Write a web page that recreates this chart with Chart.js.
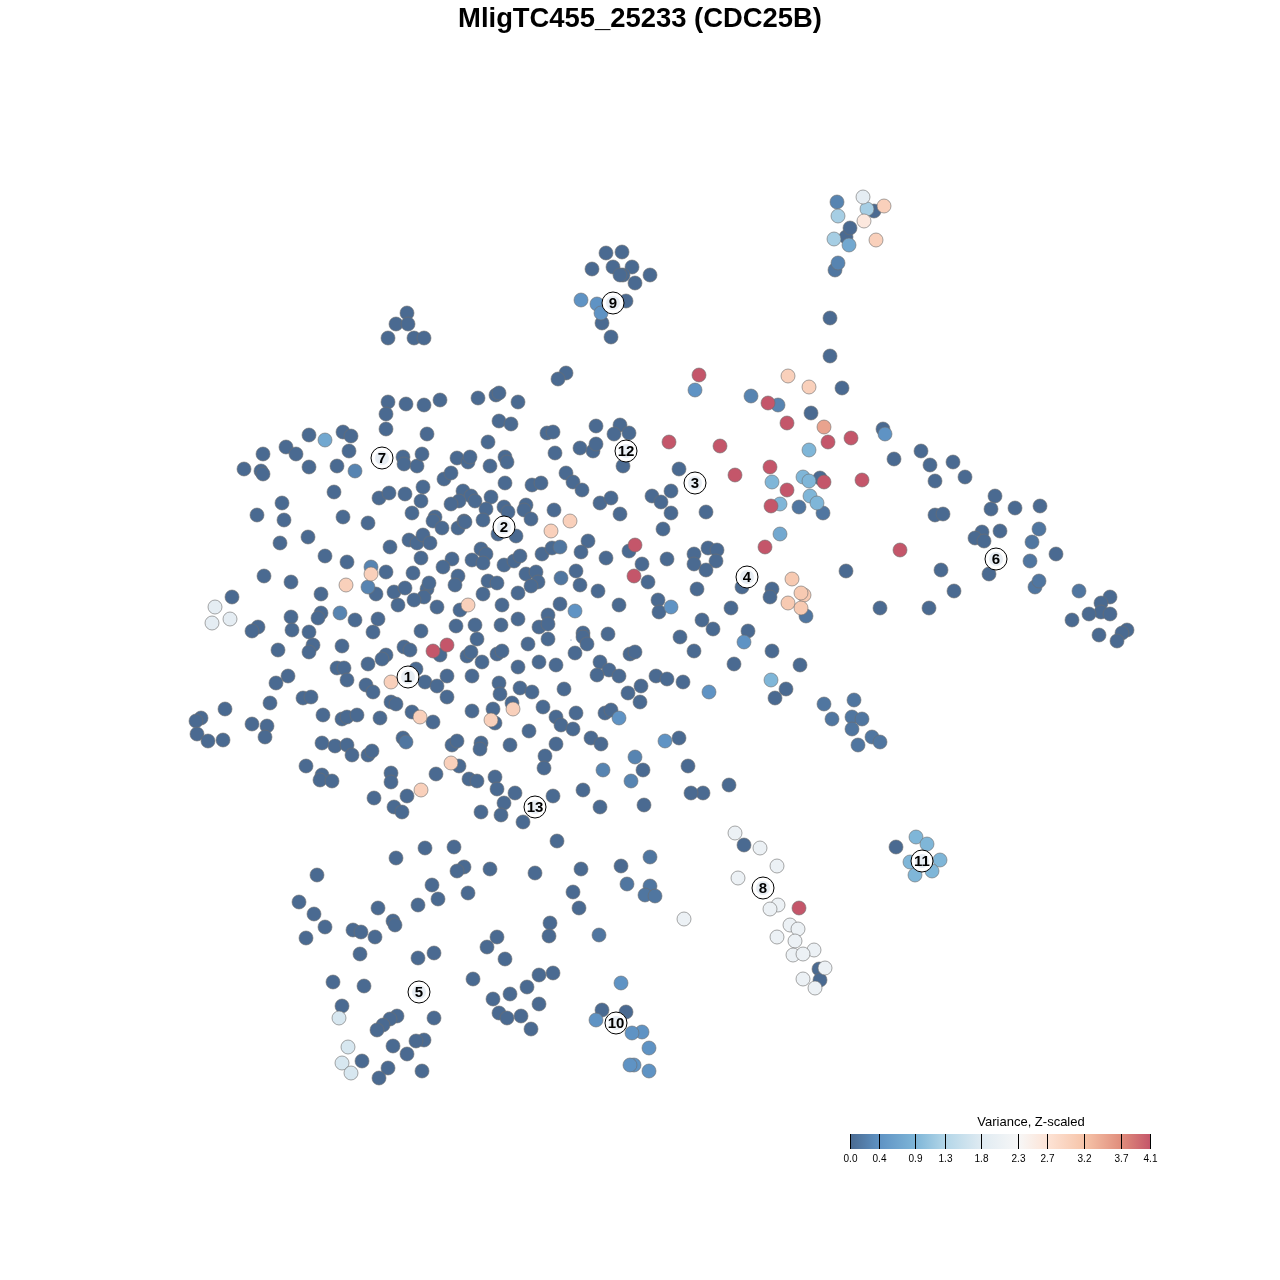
<!DOCTYPE html>
<html>
<head>
<meta charset="utf-8">
<title>MligTC455_25233 (CDC25B)</title>
<script src="https://cdn.jsdelivr.net/npm/chart.js@4"></script>
<style>
  html, body { margin: 0; padding: 0; background: #fff; }
  #wrap { width: 1280px; height: 1280px; }
</style>
</head>
<body>
<div id="wrap"><canvas id="tsneChart" width="1280" height="1280"></canvas></div>
<script>
// cells, grouped by variance, lowest drawn first: [x, y, x, y, ...]
const cellsV000 = [
  606,253, 622,252, 592,269, 613,267, 632,267, 623,275, 620,275, 650,275, 635,283, 626,301, 602,323, 611,337,
  407,313, 396,324, 408,324, 388,338, 414,338, 424,338, 566,373, 558,379, 846,237, 850,228, 874,211, 830,318,
  830,356, 842,388, 811,413, 883,429, 894,459, 921,451, 930,465, 953,462, 965,477, 935,481, 995,496, 991,509,
  1015,508, 1040,506, 935,515, 943,514, 1000,531, 982,532, 975,538, 984,541, 1056,554, 941,570, 989,574, 954,591,
  880,608, 929,608, 1110,597, 1101,603, 1101,612, 1110,614, 1089,614, 1072,620, 1127,630, 1122,633, 1099,635, 1117,641,
  820,478, 846,571,
  309,435, 343,432, 351,436, 349,451, 263,454, 286,447, 296,454, 244,469, 261,471, 263,474, 309,467, 337,466,
  388,402, 386,414, 386,429, 406,404, 424,405, 427,434, 403,457, 404,464, 417,466, 422,454, 334,492, 282,503,
  257,515, 284,520, 343,517, 368,523, 379,498, 389,493, 405,494, 423,487, 421,501, 412,513, 435,517, 433,521,
  280,543, 308,537, 325,556, 347,562, 390,547, 409,540, 417,543, 423,535, 430,543, 421,558, 386,572, 413,573,
  264,576, 291,582, 376,594, 394,592, 405,588, 427,589, 429,583, 424,597, 414,600, 398,605, 321,594, 232,597,
  291,617, 321,613, 318,618, 355,620, 378,619, 258,627, 252,631, 292,630, 309,632, 373,632, 421,631, 278,650,
  313,645, 309,652, 342,646, 404,647, 410,650, 386,655, 382,659, 368,664, 337,668, 344,668, 347,680, 416,669,
  425,682, 366,685, 373,692, 288,676, 276,683, 270,703, 303,698, 311,697, 391,702, 396,704, 225,709, 323,715,
  342,719, 347,717, 357,715, 380,718, 412,712, 433,722, 201,718, 196,721, 197,734, 208,741, 223,740, 252,724,
  267,726, 265,737, 403,738, 322,743, 335,746, 347,745, 352,755, 368,755, 372,751, 306,766, 322,775, 320,780,
  332,781, 391,773, 391,782, 436,774, 407,796, 374,798, 394,807, 402,812, 425,848,
  440,400, 478,398, 496,395, 499,393, 518,402, 499,421, 511,424, 488,442, 547,433, 553,432, 596,426, 620,425,
  614,434, 629,433, 555,453, 580,448, 593,451, 596,444, 623,466, 457,458, 468,462, 470,457, 490,466, 505,457,
  507,462, 566,473, 573,482, 582,490, 444,479, 451,473, 505,483, 532,485, 541,483, 463,491, 471,496, 475,501,
  459,501, 451,504, 491,497, 486,509, 483,520, 504,507, 508,512, 526,505, 524,510, 531,519, 554,510, 600,503,
  611,498, 620,514, 442,528, 458,528, 464,521, 465,522, 498,534, 516,536, 588,541, 581,552, 542,554, 552,548,
  606,558, 629,551, 642,564, 648,582, 481,549, 486,554, 472,560, 483,563, 452,559, 443,567, 458,576, 455,585,
  504,565, 514,561, 520,556, 488,581, 497,583, 526,574, 536,572, 538,582, 531,586, 576,571, 580,585, 598,591,
  483,594, 518,593, 437,607, 460,610, 502,605, 560,604, 619,605, 548,615, 539,627, 548,624, 518,619, 456,626,
  475,625, 501,625, 583,633, 608,634, 477,639, 528,644, 548,639, 583,637, 587,644, 575,653, 440,655, 467,656,
  471,652, 482,662, 497,654, 502,651, 539,662, 556,665, 518,667, 600,662, 609,670, 597,675, 619,676, 630,654,
  635,652, 447,676, 472,676, 437,686, 447,697, 499,683, 500,694, 520,688, 532,692, 564,689, 628,693, 641,686,
  640,702, 472,711, 493,709, 512,703, 495,723, 543,707, 556,717, 561,725, 576,713, 573,729, 605,713, 611,710,
  529,731, 591,738, 601,744, 452,745, 457,741, 481,743, 480,749, 510,745, 556,744, 545,756, 544,768, 643,770,
  459,766, 469,779, 477,781, 495,777, 497,789, 515,793, 504,803, 553,796, 583,790, 600,807, 644,805, 481,812,
  501,815, 523,822, 557,841, 454,847,
  679,469, 671,491, 652,496, 661,502, 671,513, 706,512, 663,529, 708,548, 717,550, 694,554, 694,564, 716,561,
  706,570, 667,559, 742,587, 697,589, 772,589, 658,600, 659,612, 731,608, 702,620, 713,629, 748,631, 680,637,
  694,651, 772,651, 734,664, 800,665, 656,676, 667,679, 683,682, 786,689, 775,698, 679,738, 688,766, 729,785,
  703,793, 691,793, 770,597,
  396,858, 317,875, 464,867, 457,871, 490,869, 535,873, 432,885, 468,893, 438,899, 418,905, 299,902, 314,914,
  325,927, 306,938, 378,908, 393,921, 395,925, 353,930, 361,932, 375,937, 360,954, 434,953, 418,958, 497,937,
  487,947, 505,959, 550,923, 549,936, 573,892, 579,908, 553,973, 539,975, 527,987, 333,982, 364,986, 473,979,
  510,994, 493,999, 539,1004, 342,1006, 499,1013, 507,1018, 521,1016, 531,1029, 434,1018, 397,1016, 390,1019,
  383,1025, 377,1030, 424,1040, 416,1041, 393,1046, 407,1054, 362,1061, 388,1068, 379,1078, 422,1071, 621,866,
  581,869, 744,845, 602,1010, 626,1012, 819,969, 820,980, 896,847
];
const cellsV012 = [
  824,704, 854,700, 832,719, 852,717, 862,719, 852,729, 872,737, 880,742, 858,745, 1030,561, 1032,542, 1039,529,
  1035,587, 1039,581, 1079,591, 650,857, 627,884, 650,886, 645,895, 655,896, 599,935, 835,270, 560,547, 561,578,
  406,742, 823,513, 799,507, 806,616
];
const cellsV025 = [355,471, 371,567, 368,587, 340,613, 635,757, 631,781, 603,770, 837,202, 778,405, 751,396, 838,263];
const cellsV040 = [
  575,611, 619,718, 665,741, 709,692, 744,642, 671,607, 581,300, 597,304, 601,313, 695,390, 885,434, 621,983,
  596,1020, 642,1032, 632,1033, 649,1048, 634,1065, 630,1065, 649,1071
];
const cellsV070 = [325,440, 780,534, 849,245];
const cellsV090 = [
  772,482, 803,477, 809,481, 810,496, 817,503, 780,504, 809,450, 771,680, 916,837, 927,844, 940,860, 910,862,
  932,871, 915,875
];
const cellsV120 = [834,239, 838,216, 867,209];
const cellsV170 = [339,1018, 348,1047, 342,1063, 351,1073];
const cellsV190 = [215,607, 230,619, 212,623, 863,197];
const cellsV205 = [
  735,833, 760,848, 777,866, 738,878, 778,905, 770,909, 684,919, 790,925, 798,929, 777,937, 795,941, 814,950,
  793,955, 803,954, 825,968, 803,979, 815,988
];
const cellsV260 = [864,221];
const cellsV300 = [
  391,682, 420,717, 421,790, 451,763, 491,720, 513,709, 468,605, 346,585, 371,574, 570,521, 551,531, 788,376,
  809,387, 884,206, 876,240
];
const cellsV310 = [792,579, 804,595, 801,593, 788,603, 801,608];
const cellsV350 = [824,427];
const cellsV410 = [
  699,375, 768,403, 787,423, 851,438, 828,442, 669,442, 720,446, 770,467, 735,475, 824,482, 862,480, 787,490,
  771,506, 765,547, 900,550, 635,545, 634,576, 433,651, 447,645, 799,908
];

const varianceLevels = [0, 0.12, 0.25, 0.4, 0.7, 0.9, 1.2, 1.7, 1.9, 2.05, 2.6, 3.0, 3.1, 3.5, 4.1];
const cellsByLevel = [cellsV000, cellsV012, cellsV025, cellsV040, cellsV070, cellsV090, cellsV120, cellsV170,
  cellsV190, cellsV205, cellsV260, cellsV300, cellsV310, cellsV350, cellsV410];

// the speck left of the middle of the plot
const speckX = [571];
const speckY = [640];

// numbered cluster badges
const clusterIds = ['1', '2', '3', '4', '5', '6', '7', '8', '9', '10', '11', '12', '13'];
const clusterX = [408, 504, 695, 747, 419, 996, 382, 763, 613, 616, 922, 626, 535];
const clusterY = [677, 527, 483, 577, 992, 559, 458, 888, 303, 1023, 861, 451, 807];

// colour bar
const barTicks = [0.0, 0.4, 0.9, 1.3, 1.8, 2.3, 2.7, 3.2, 3.7, 4.1];
const barColors = ['#4a6a91', '#5f93c4', '#7fb6d8', '#b3d6e8', '#e0ebf2', '#f7f7f7', '#fde3d5', '#f6c4a9', '#e08d7c', '#c4566a'];

function hexToRgb(h) {
  return [1, 3, 5].map(i => parseInt(h.slice(i, i + 2), 16));
}

// piecewise colour lookup along the bar ticks
function colorFor(v) {
  let i = 0;
  while (i < barTicks.length - 2 && v > barTicks[i + 1]) i++;
  const t = Math.min(1, Math.max(0, (v - barTicks[i]) / (barTicks[i + 1] - barTicks[i])));
  const a = hexToRgb(barColors[i]), b = hexToRgb(barColors[i + 1]);
  const c = a.map((n, k) => Math.round(n + (b[k] - n) * t));
  return 'rgb(' + c.join(',') + ')';
}

function toPoints(flat) {
  const out = [];
  for (let i = 0; i < flat.length; i += 2) out.push({ x: flat[i], y: flat[i + 1] });
  return out;
}

// chart.js paints the lowest order last, so higher variance gets a lower order
const cellDatasets = cellsByLevel.map((cells, i) => ({
  label: 'variance ' + varianceLevels[i],
  data: toPoints(cells),
  order: 100 - i,
  pointRadius: 7,
  pointBorderWidth: 1,
  pointBackgroundColor: colorFor(varianceLevels[i]),
  pointBorderColor: 'rgba(110,110,110,0.6)',
  showLine: false
}));

const clusterPoints = clusterIds.map((id, i) => ({ x: clusterX[i], y: clusterY[i] }));

// badge numbers on top of the points
const badgeText = {
  id: 'badgeText',
  afterDatasetsDraw(chart) {
    const ctx = chart.ctx;
    ctx.save();
    ctx.fillStyle = '#000';
    ctx.font = 'bold 15px "Liberation Sans"';
    ctx.textAlign = 'center';
    ctx.textBaseline = 'middle';
    clusterIds.forEach((id, i) => {
      ctx.fillText(id, chart.scales.x.getPixelForValue(clusterX[i]), chart.scales.y.getPixelForValue(clusterY[i]) + 0.5);
    });
    ctx.restore();
  }
};

// variance colour bar, bottom right
const colorBar = {
  id: 'colorBar',
  afterDraw(chart) {
    const ctx = chart.ctx;
    const left = 850, right = 1150.5, top = 1134, bottom = 1149;
    const maxV = barTicks[barTicks.length - 1];
    const grad = ctx.createLinearGradient(left, 0, right, 0);
    barTicks.forEach((v, i) => grad.addColorStop(v / maxV, barColors[i]));
    ctx.save();
    ctx.fillStyle = grad;
    ctx.fillRect(left, top, right - left, bottom - top);
    ctx.strokeStyle = '#000';
    ctx.lineWidth = 1;
    ctx.fillStyle = '#000';
    ctx.font = '10px "Liberation Sans"';
    ctx.textAlign = 'center';
    ctx.textBaseline = 'middle';
    barTicks.forEach(v => {
      const x = Math.floor(left + (right - left) * v / maxV) + 0.5;
      ctx.beginPath();
      ctx.moveTo(x, top);
      ctx.lineTo(x, bottom);
      ctx.stroke();
      ctx.fillText(v.toFixed(1), x, 1159.5);
    });
    ctx.font = '13px "Liberation Sans"';
    ctx.fillText('Variance, Z-scaled', 1031, 1122.5);
    ctx.restore();
  }
};

new Chart(document.getElementById('tsneChart').getContext('2d'), {
  type: 'scatter',
  data: {
    datasets: cellDatasets.concat([
      {
        label: 'speck',
        data: speckX.map((x, i) => ({ x: x, y: speckY[i] })),
        order: 3,
        pointRadius: 0.5,
        pointBorderWidth: 0,
        pointBackgroundColor: '#4a6a91'
      },
      {
        label: 'clusters',
        data: clusterPoints,
        order: 2,
        pointRadius: 11,
        pointBorderWidth: 1,
        pointBackgroundColor: '#ffffff',
        pointBorderColor: '#000000'
      },
      {
        label: 'cluster centres',
        data: clusterPoints,
        order: 1,
        pointRadius: 7,
        pointBorderWidth: 0,
        pointBackgroundColor: '#e8eef4'
      }
    ])
  },
  options: {
    responsive: false,
    animation: false,
    layout: { padding: 0 },
    plugins: {
      legend: { display: false },
      tooltip: { enabled: false },
      title: {
        display: true,
        text: 'MligTC455_25233 (CDC25B)',
        color: '#000',
        font: { family: '"Liberation Sans"', size: 27.4, weight: 'bold', lineHeight: '30px' },
        padding: { top: 4, bottom: 6 }
      }
    },
    scales: {
      // chart.js insets the plot area 12px for the badge radius, so the range stops 12 short too
      x: { type: 'linear', min: 12, max: 1268, display: false },
      y: { type: 'linear', min: 40, max: 1268, reverse: true, display: false }
    }
  },
  plugins: [badgeText, colorBar]
});
</script>
</body>
</html>
